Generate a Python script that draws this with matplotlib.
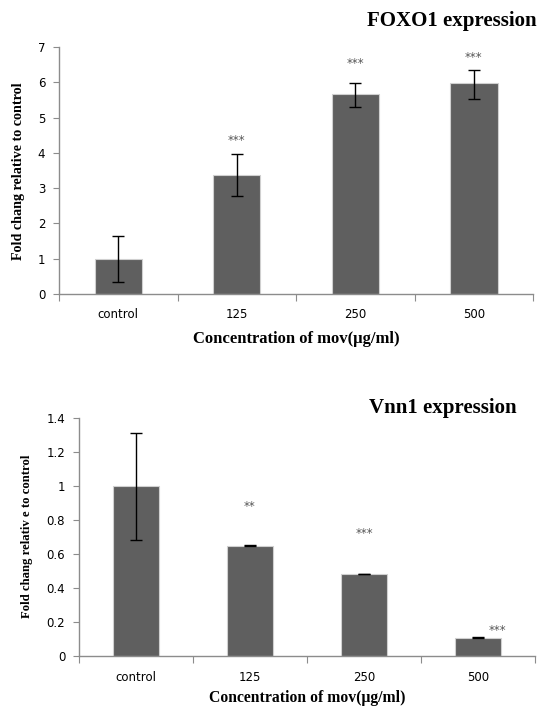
import matplotlib.pyplot as plt

categories = ["control", "125", "250", "500"]

foxo1_mean = [1.0, 3.37, 5.66, 5.97]
foxo1_err_hi = [0.65, 0.59, 0.31, 0.39]
foxo1_err_lo = [0.67, 0.58, 0.35, 0.43]
foxo1_stars = ["", "***", "***", "***"]
foxo1_star_y = [0, 4.36, 6.54, 6.71]

vnn1_mean = [1.0, 0.646, 0.48, 0.104]
vnn1_err_hi = [0.31, 0.004, 0.003, 0.008]
vnn1_err_lo = [0.32, 0.0, 0.0, 0.0]
vnn1_stars = ["", "**", "***", "***"]
vnn1_star_y = [0, 0.88, 0.72, 0.15]
vnn1_star_dx = [0, 0, 0, 0.17]

bar_color = "#5f5f5f"
axis_color = "#8c8c8c"
serif = "Liberation Serif"


def draw_panel(ax, means, lo, hi, stars, star_y, star_dx, ylim, ystep, fmt):
    pos = list(range(len(categories)))
    ax.bar(pos, means, width=0.4, color=bar_color, edgecolor="#d0d0d0", linewidth=0.8,
           yerr=[lo, hi], error_kw=dict(ecolor="black", elinewidth=1.0, capsize=4, capthick=1.0))
    for i, s in enumerate(stars):
        if s:
            ax.text(i + star_dx[i], star_y[i], s, ha="center", va="center",
                    fontsize=8.5, color="#555555")
    ax.set_xlim(-0.5, len(categories) - 0.5)
    ax.set_ylim(*ylim)
    ticks = [round(ystep * k, 2) for k in range(int(round(ylim[1] / ystep)) + 1)]
    ax.set_yticks(ticks)
    ax.set_yticklabels([fmt(t) for t in ticks])
    ax.set_xticks([p - 0.5 for p in pos] + [len(categories) - 0.5])
    ax.set_xticklabels([])
    ax.set_xticks(pos, minor=True)
    ax.set_xticklabels(categories, minor=True)
    ax.tick_params(axis="x", which="minor", length=0, pad=10, labelsize=8.5)
    ax.tick_params(axis="x", which="major", length=5, color=axis_color)
    ax.tick_params(axis="y", length=4, color=axis_color, labelsize=8.5, pad=6)
    for side in ["top", "right"]:
        ax.spines[side].set_visible(False)
    for side in ["left", "bottom"]:
        ax.spines[side].set_color(axis_color)
        ax.spines[side].set_linewidth(1.0)


def fmt_int(v):
    return str(int(v))


def fmt_dec(v):
    return "0" if v == 0 else ("1" if v == 1 else ("%g" % v))


fig = plt.figure(figsize=(5.39, 7.09), dpi=100)

ax1 = fig.add_axes([0.1095, 0.5853, 0.8795, 0.3484])
draw_panel(ax1, foxo1_mean, foxo1_err_lo, foxo1_err_hi, foxo1_stars, foxo1_star_y,
           [0, 0, 0, 0], (0, 7), 1, fmt_int)
ax1.set_xlabel("Concentration of mov(\u03bcg/ml)", fontfamily=serif, fontweight="bold",
               fontsize=12, labelpad=7)
fig.text(0.839, 0.970, "FOXO1 expression", fontfamily=serif, fontweight="bold",
         fontsize=15, ha="center", va="center")
fig.text(0.035, 0.758, "Fold chang relative to control", fontfamily=serif,
         fontweight="bold", fontsize=10.2, rotation=90, ha="center", va="center")

ax2 = fig.add_axes([0.1466, 0.0748, 0.846, 0.3361])
draw_panel(ax2, vnn1_mean, vnn1_err_lo, vnn1_err_hi, vnn1_stars, vnn1_star_y,
           vnn1_star_dx, (0, 1.4), 0.2, fmt_dec)
ax2.tick_params(axis="x", which="minor", pad=11)
ax2.set_xlabel("Concentration of mov(\u03bcg/ml)", fontfamily=serif, fontweight="bold",
               fontsize=11.3, labelpad=4)
fig.text(0.822, 0.4245, "Vnn1 expression", fontfamily=serif, fontweight="bold",
         fontsize=15, ha="center", va="center")
fig.text(0.050, 0.243, "Fold chang relativ e to control", fontfamily=serif,
         fontweight="bold", fontsize=9.2, rotation=90, ha="center", va="center")

fig.savefig("out.png", dpi=100)
